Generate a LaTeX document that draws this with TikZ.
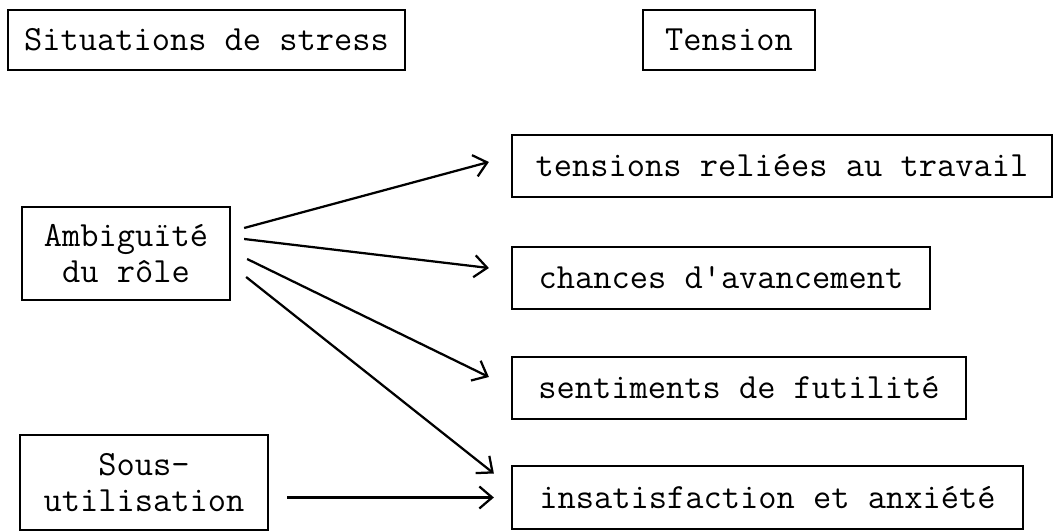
\documentclass[tikz,border=0pt]{standalone}
\usepackage{tikz}
\usetikzlibrary{arrows.meta}

\begin{document}
\begin{tikzpicture}[
  typebox/.style={draw, line width=1.6pt, rectangle, inner sep=0pt, align=center,
    font=\ttfamily\fontsize{25.2}{26}\selectfont},
  arr/.style={line width=1.6pt, -{Straight Barb[length=3.2mm,width=5.5mm,line width=1.6pt]}}
]
\useasboundingbox (0,0) rectangle (26.375,13.275);
\node[typebox, minimum width=9.925cm, minimum height=1.5cm] (stress) at (5.1625,12.275) {Situations de stress};
\node[typebox, minimum width=4.3cm, minimum height=1.5cm] (tension) at (18.225,12.275) {Tension};
\node[typebox, minimum width=5.2cm, minimum height=2.325cm] (ambig) at (3.15,6.9375) {Ambiguïté\\du rôle};
\node[typebox, minimum width=6.2cm, minimum height=2.375cm] (sous) at (3.6,1.2125) {Sous-\\utilisation};
\node[typebox, minimum width=13.5cm, minimum height=1.55cm] (travail) at (19.55,9.125) {tensions reliées au travail};
\node[typebox, minimum width=10.45cm, minimum height=1.55cm] (chances) at (18.025,6.325) {chances d\textquotesingle avancement};
\node[typebox, minimum width=11.35cm, minimum height=1.55cm] (futilite) at (18.475,3.575) {sentiments de futilité};
\node[typebox, minimum width=12.775cm, minimum height=1.575cm] (anxiete) at (19.1875,0.8375) {insatisfaction et anxiété};
\draw[arr] ([shift={(0.325cm,0.6375cm)}]ambig.east) -- ([shift={(-0.55cm,0.1cm)}]travail.west);
\draw[arr] ([shift={(0.325cm,0.3625cm)}]ambig.east) -- ([shift={(-0.55cm,0.25cm)}]chances.west);
\draw[arr] ([shift={(0.4cm,-0.1375cm)}]ambig.east) -- ([shift={(-0.55cm,0.275cm)}]futilite.west);
\draw[arr] ([shift={(0.375cm,-0.5875cm)}]ambig.east) -- ([shift={(-0.425cm,0.6cm)}]anxiete.west);
\draw[arr, shorten <=0.45cm, shorten >=0.425cm] (sous.east |- anxiete.west) -- (anxiete.west);
\end{tikzpicture}
\end{document}
